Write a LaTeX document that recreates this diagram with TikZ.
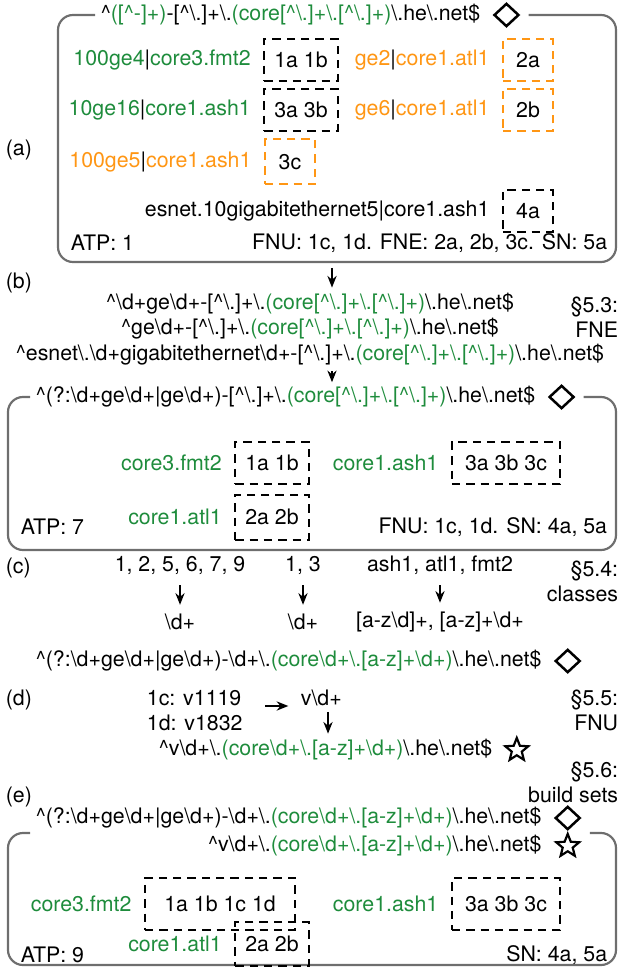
\documentclass[tikz,border=0pt]{standalone}
\usepackage{fontspec}
\setmainfont{TeX Gyre Heros}
\usepackage{tikz}
\usetikzlibrary{arrows, arrows.meta, shapes.geometric, positioning, calc}

\definecolor{regreen}{RGB}{30,140,60}
\definecolor{reorange}{RGB}{255,150,20}
\definecolor{framegray}{RGB}{110,110,110}

\newcommand{\bs}{\textbackslash}
\newcommand{\ct}{\textasciicircum}
\newcommand{\gr}[1]{\textcolor{regreen}{#1}}
\newcommand{\og}[1]{\textcolor{reorange}{#1}}
% common regex tails
\newcommand{\tailany}{\bs.\gr{(core[\ct\bs.]+\bs.[\ct\bs.]+)}\bs.he\bs.net\$}
\newcommand{\taildig}{\bs.\gr{(core\bs d+\bs.[a-z]+\bs d+)}\bs.he\bs.net\$}

\begin{document}
\begin{tikzpicture}[x=0.6pt, y=-0.6pt, >={Stealth[length=7pt, width=5.5pt]}, font=\fontsize{12.8}{15}\selectfont,
  frame/.style={draw=framegray, line width=1.3pt, rounded corners=9pt},
  setbox/.style={draw, line width=1.2pt, dash pattern=on 5pt off 3.6pt, minimum height=25pt, minimum width=30pt, inner xsep=6pt},
  fnebox/.style={setbox, draw=reorange},
  dia/.style={diamond, draw, line width=1.5pt, minimum width=15pt, minimum height=14pt, inner sep=0pt},
  star5/.style={star, star points=5, star point ratio=2.3, draw, line width=1.3pt, minimum size=14.5pt, inner sep=0pt},
  flow/.style={->, line width=1.2pt},
  part/.style={anchor=west},
  sect/.style={anchor=east, align=right}]

\useasboundingbox (0,0) rectangle (625,974);

% (a) original regex
\node[part] (lab-a) at (0,150) {(a)};
\node[part] (ta) at (95,15) {\ct\gr{([\ct-]+)}-[\ct\bs.]+\tailany};
\node[dia, right=4pt of ta] (ta-d) {};
\draw[frame] (ta.west) -| (58,262) -| (616,15) -- ([xshift=5pt]ta-d.east);

\node[setbox, minimum width=44pt] (a11) at (301,60) {1a 1b};
\node[left=4pt of a11] (a11l) {\gr{100ge4}|\gr{core3.fmt2}};
\node[fnebox] (a12) at (528,60) {2a};
\node[left=4pt of a12] (a12l) {\og{ge2}|\og{core1.atl1}};
\node[setbox, minimum width=44pt] (a21) at (301,110) {3a 3b};
\node[left=4pt of a21] (a21l) {\gr{10ge16}|\gr{core1.ash1}};
\node[fnebox] (a22) at (528,110) {2b};
\node[left=4pt of a22] (a22l) {\og{ge6}|\og{core1.atl1}};
\node[fnebox, minimum height=27pt] (a31) at (290,162) {3c};
\node[left=4pt of a31] (a31l) {\og{100ge5}|\og{core1.ash1}};
\node[setbox] (a41) at (528,211) {4a};
\node[left=4pt of a41] (a41l) {esnet.10gigabitethernet5|core1.ash1};
\node[part] (a-atp) at (65,243) {ATP: 1};
\node[anchor=east] (a-stat) at (613,243) {FNU: 1c, 1d. FNE: 2a, 2b, 3c. SN: 5a};

% (b) FNE
\coordinate (a-out) at (332,268);
\node[part] (lab-b) at (0,283) {(b)};
\node (b1) at (310,304) {\ct\bs d+ge\bs d+-[\ct\bs.]+\tailany};
\node (b2) at (310,329) {\ct ge\bs d+-[\ct\bs.]+\tailany};
\node (b3) at (310,355) {\ct esnet\bs.\bs d+gigabitethernet\bs d+-[\ct\bs.]+\tailany};
\node[sect] (s53) at (624,317) {\S5.3:\\FNE};
\draw[flow] (a-out) -- (a-out |- b1.north);

% (c) merged regex
\node[part] (tc) at (30,397) {\ct(?:\bs d+ge\bs d+|ge\bs d+)-[\ct\bs.]+\tailany};
\node[dia, right=4pt of tc] (tc-d) {};
\draw[frame] (tc.west) -| (8,550) -| (616,397) -- ([xshift=5pt]tc-d.east);
\draw[flow, shorten >=-1pt] (b3.south -| a-out) -- (tc.north -| a-out);

\node[setbox, minimum width=44pt] (c11) at (272,463) {1a 1b};
\node[left=4pt of c11] (c11l) {\gr{core3.fmt2}};
\node[setbox, minimum width=65pt] (c12) at (506,463) {3a 3b 3c};
\node[left=4pt of c12] (c12l) {\gr{core1.ash1}};
\node[setbox, minimum width=44pt, minimum height=27pt] (c21) at (272,517) {2a 2b};
\node[left=4pt of c21] (c21l) {\gr{core1.atl1}};
\node[part] (c-atp) at (15,527) {ATP: 7};
\node[anchor=east] (c-stat) at (613,527) {FNU: 1c, 1d. SN: 4a, 5a};

\node[part] (lab-c) at (0,568) {(c)};
\node (c-num1) at (180,565) {1, 2, 5, 6, 7, 9};
\node (c-num2) at (303,565) {1, 3};
\node (c-site) at (440,565) {ash1, atl1, fmt2};
\node (c-cls1) at (180,622) {\bs d+};
\node (c-cls2) at (303,622) {\bs d+};
\node (c-cls3) at (440,622) {[a-z\bs d]+, [a-z]+\bs d+};
\node[sect] (s54) at (624,581) {\S5.4:\\classes};
\foreach \i in {1,2} {
  \draw[flow, shorten <=3pt, shorten >=2pt] (c-num\i) -- (c-cls\i);
}
\draw[flow, shorten <=3pt, shorten >=2pt] (c-site) -- (c-cls3);
\node[part] (c-res) at (30,661) {\ct(?:\bs d+ge\bs d+|ge\bs d+)-\bs d+\taildig};
\node[dia, right=4pt of c-res] (c-res-d) {};

% (d) FNU
\node[part] (lab-d) at (0,700) {(d)};
\node[part, align=left] (d-fnu) at (141,711) {1c: v1119\\1d: v1832};
\node[part] (d-pat) at (295,698) {v\bs d+};
\node[part] (d-res) at (153,750) {\ct v\bs d+\taildig};
\node[star5, right=6pt of d-res] (d-res-s) {};
\node[sect] (s55) at (624,710) {\S5.5:\\FNU};
\draw[flow, shorten <=10pt, shorten >=4pt] ([yshift=3pt]d-fnu.east) -- ([yshift=3pt]d-fnu.east -| d-pat.west);
\draw[flow] ([xshift=4pt]d-pat.south) -- ([xshift=4pt]d-pat.south |- d-res.north);

% (e) build sets
\node[sect] (s56) at (624,782) {\S5.6:\\build sets};
\node[part] (lab-e) at (0,797) {(e)};
\coordinate (e-top) at (0,833);
\node[part] (e1) at (30,818) {\ct(?:\bs d+ge\bs d+|ge\bs d+)-\bs d+\taildig};
\node[dia, right=4pt of e1] (e1-d) {};
\node[anchor=east] (e2) at (e1.east |- 0,846) {\ct v\bs d+\taildig};
\node[star5] (e2-s) at (e1-d |- e2) {};
\draw[frame] (e1.west |- e-top) -| (8,965) -| (616,833) -- ([xshift=5pt]e1-d.east |- e-top);

\node[setbox, minimum width=90pt, minimum height=31pt] (e11) at (220,904) {1a 1b 1c 1d};
\node[left=4pt of e11] (e11l) {\gr{core3.fmt2}};
\node[setbox, minimum width=65pt, minimum height=31pt] (e12) at (506,904) {3a 3b 3c};
\node[left=4pt of e12] (e12l) {\gr{core1.ash1}};
\node[setbox, minimum width=44pt, minimum height=26pt] (e21) at (272,944) {2a 2b};
\node[left=4pt of e21] (e21l) {\gr{core1.atl1}};
\node[part] (e-atp) at (15,955) {ATP: 9};
\node[anchor=east] (e-stat) at (613,955) {SN: 4a, 5a};
\end{tikzpicture}
\end{document}
